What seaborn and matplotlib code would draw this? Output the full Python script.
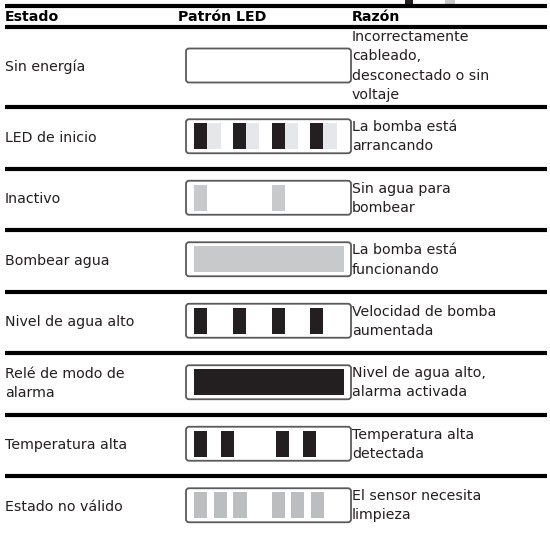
import matplotlib
matplotlib.use("Agg")
import matplotlib.pyplot as plt
from matplotlib.patches import FancyBboxPatch, Rectangle
import seaborn as sns

# ---------------- data ----------------
headers = ["Estado", "Patrón LED", "Razón"]
states = ["Sin energía", "LED de inicio", "Inactivo", "Bombear agua",
          "Nivel de agua alto", "Relé de modo de\nalarma", "Temperatura alta",
          "Estado no válido"]
reasons = ["Incorrectamente\ncableado,\ndesconectado o sin\nvoltaje",
           "La bomba está\narrancando",
           "Sin agua para\nbombear",
           "La bomba está\nfuncionando",
           "Velocidad de bomba\naumentada",
           "Nivel de agua alto,\nalarma activada",
           "Temperatura alta\ndetectada",
           "El sensor necesita\nlimpieza"]
# LED pattern segments: start positions along the LED strip, segment length, tone
seg_starts = [[],
              [0, 13.3, 38.7, 52, 77.7, 91, 116, 129.3],
              [0, 78],
              [0],
              [0, 38.7, 78, 116],
              [0],
              [0, 26.7, 81.7, 109],
              [0, 20, 39.3, 77.7, 97, 117]]
seg_lengths = [[],
               [13.3] * 8,
               [13.3] * 2,
               [150],
               [13.3] * 4,
               [150],
               [13.3] * 4,
               [13.3] * 6]
seg_tones = [[],
             ["on", "dim"] * 4,
             ["mid"] * 2,
             ["mid"],
             ["on"] * 4,
             ["on"],
             ["on"] * 4,
             ["mid2"] * 6]
tone_colors = {"on": "#231f20", "dim": "#e6e7e8", "mid": "#c8c9ca", "mid2": "#bcbdbe"}

# ---------------- layout ----------------
sns.set_theme(style="white")
plt.rcParams["font.family"] = ["DejaVu Sans"]

W, H = 550, 538
fig = plt.figure(figsize=(W / 100, H / 100), dpi=100)
ax = fig.add_axes([0, 0, 1, 1])
ax.set_xlim(0, W)
ax.set_ylim(H, 0)
ax.axis("off")

top = 5.5
header_h = 21.5
row_h = [80] + [61.5] * 7
col_x = [5, 178, 352]
box_x0, box_w = 186, 165
seg_x0 = 194
box_h = 34
seg_pad = 4
fs = 10.2
txt_col = "#231f20"

# cut-off legend swatches of content above the table (top right)
ax.add_patch(Rectangle((405, -5), 8, 8.5, facecolor=tone_colors["on"], edgecolor="none"))
ax.add_patch(Rectangle((445, -5), 10, 8.5, facecolor=tone_colors["mid"], edgecolor="none"))

line_kw = dict(color="black", lw=3.0, solid_capstyle="butt")
ax.plot([5, 547], [top, top], **line_kw)
header_mid = top + header_h / 2 + 0.5
for x, h in zip(col_x, headers):
    ax.text(x, header_mid, h, fontsize=fs, fontweight="bold", color="black",
            va="center", ha="left")
y = top + header_h
ax.plot([5, 547], [y, y], **line_kw)

for i, (state, reason) in enumerate(zip(states, reasons)):
    yc = y + row_h[i] / 2
    ax.text(col_x[0], yc, state, fontsize=fs, color=txt_col, va="center",
            ha="left", linespacing=1.45)
    ax.text(col_x[2], yc - 1, reason, fontsize=fs, color=txt_col, va="center",
            ha="left", linespacing=1.5)
    by = yc - 1.5 - box_h / 2
    box = FancyBboxPatch((box_x0, by), box_w, box_h,
                         boxstyle="round,pad=0,rounding_size=3",
                         facecolor="white", edgecolor="#5a5a5a", lw=1.3, zorder=2)
    ax.add_patch(box)
    if seg_starts[i]:
        ranges = [(seg_x0 + s, l) for s, l in zip(seg_starts[i], seg_lengths[i])]
        colors = [tone_colors[t] for t in seg_tones[i]]
        ax.broken_barh(ranges, (by + seg_pad, box_h - 2 * seg_pad),
                       facecolors=colors, edgecolor="none", zorder=3)
    y += row_h[i]
    if i < len(states) - 1:
        ax.plot([5, 547], [y, y], **line_kw)

fig.savefig("out.png", dpi=100)
